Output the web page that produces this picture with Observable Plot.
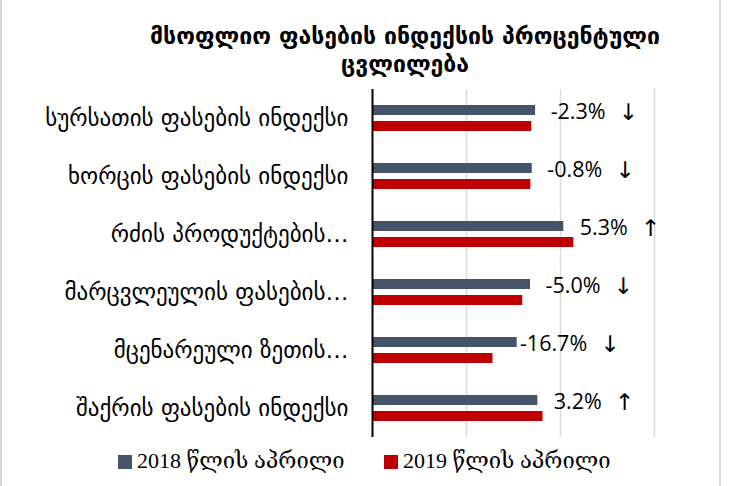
<!DOCTYPE html>
<html><head><meta charset="utf-8">
<script src="https://cdn.jsdelivr.net/npm/d3@7"></script>
<script src="https://cdn.jsdelivr.net/npm/@observablehq/plot@0.6"></script>
<style>
body{margin:0;background:#fff;}
#wrap{position:relative;width:732px;height:486px;overflow:hidden;background:#fff;}
.bl{position:absolute;top:0;width:2px;height:486px;background:#d9d9d9;}
#title{position:absolute;top:22px;left:60px;width:690px;text-align:center;font-family:"DejaVu Sans";font-weight:bold;font-size:23px;line-height:28px;color:#000;}
#chart{position:absolute;top:86px;left:0;}
#legend{position:absolute;top:447px;left:0;width:732px;height:30px;}
.li{position:absolute;top:0;font-family:"Liberation Serif","DejaVu Serif","DejaVu Sans";font-size:22px;line-height:28px;color:#000;white-space:nowrap;}
.sw{display:inline-block;width:14px;height:14px;margin-right:5px;vertical-align:-1px;}
</style></head><body>
<div id="wrap">
 <div class="bl" style="left:0"></div><div class="bl" style="left:719px"></div>
 <div id="title">მსოფლიო ფასების ინდექსის პროცენტული<br>ცვლილება</div>
 <div id="chart"></div>
 <div id="legend"></div>
</div>
<script>
const categories = ["სურსათის ფასების ინდექსი","ხორცის ფასების ინდექსი","რძის პროდუქტების…","მარცვლეულის ფასების…","მცენარეული ზეთის…","შაქრის ფასების ინდექსი"];
const april2018 = [173.5, 169.9, 203.5, 168.1, 153.9, 175.9];
const april2019 = [169.5, 168.5, 214.2, 159.8, 128.2, 181.4];
const changes = [-2.3, -0.8, 5.3, -5.0, -16.7, 3.2];
const xTicks = [0, 100, 200, 300];
const seriesNames = ["2018 წლის აპრილი", "2019 წლის აპრილი"];
const seriesColors = ["#44546A", "#C00000"];
const legendX = [118, 384];

const rows = categories.map((c, i) => ({category: c, v2018: april2018[i], v2019: april2019[i], change: changes[i]}));
const pct = d => `${d.change.toFixed(1)}%`;
const arrow = d => d.change < 0 ? "\u2193" : "\u2191";
const neg = d => d.change < 0;
const pos = d => d.change >= 0;
const numOpts = {y: "category", x: "v2018", text: pct, dy: -6, textAnchor: "end",
  fontFamily: "Open Sans, DejaVu Sans", fontSize: 21.5, fill: "#000"};
const arrOpts = {y: "category", x: "v2018", text: arrow, dy: -6, textAnchor: "start",
  fontFamily: "DejaVu Sans", fontSize: 23, fill: "#000"};

const chart = Plot.plot({
  width: 732, height: 356,
  marginTop: 3, marginBottom: 5, marginLeft: 372, marginRight: 78,
  x: {domain: [xTicks[0], xTicks[xTicks.length - 1]], axis: null},
  y: {domain: categories, padding: 0},
  style: {fontFamily: "DejaVu Sans", background: "transparent", color: "#000"},
  marks: [
    Plot.gridX(xTicks.slice(1), {stroke: "#d9d9d9", strokeOpacity: 1, strokeWidth: 1.5}),
    Plot.barX(rows, {y: "category", x: "v2018", fill: seriesColors[0], insetTop: 16, insetBottom: 32}),
    Plot.barX(rows, {y: "category", x: "v2019", fill: seriesColors[1], insetTop: 32, insetBottom: 16}),
    Plot.ruleX([0], {stroke: "#000", strokeWidth: 2}),
    Plot.axisY({tickSize: 0, tickPadding: 24, fontSize: 23, label: null}),
    Plot.text(rows, {...numOpts, filter: neg, dx: 70}),
    Plot.text(rows, {...numOpts, filter: pos, dx: 64}),
    Plot.text(rows, {...arrOpts, filter: neg, dx: 83}),
    Plot.text(rows, {...arrOpts, filter: pos, dx: 77})
  ]
});
document.getElementById("chart").appendChild(chart);

const legend = document.getElementById("legend");
seriesNames.forEach((name, i) => {
  const item = document.createElement("div");
  item.className = "li";
  item.style.left = legendX[i] + "px";
  const sw = document.createElement("span");
  sw.className = "sw";
  sw.style.background = seriesColors[i];
  item.appendChild(sw);
  item.appendChild(document.createTextNode(name));
  legend.appendChild(item);
});
</script>
</body></html>
